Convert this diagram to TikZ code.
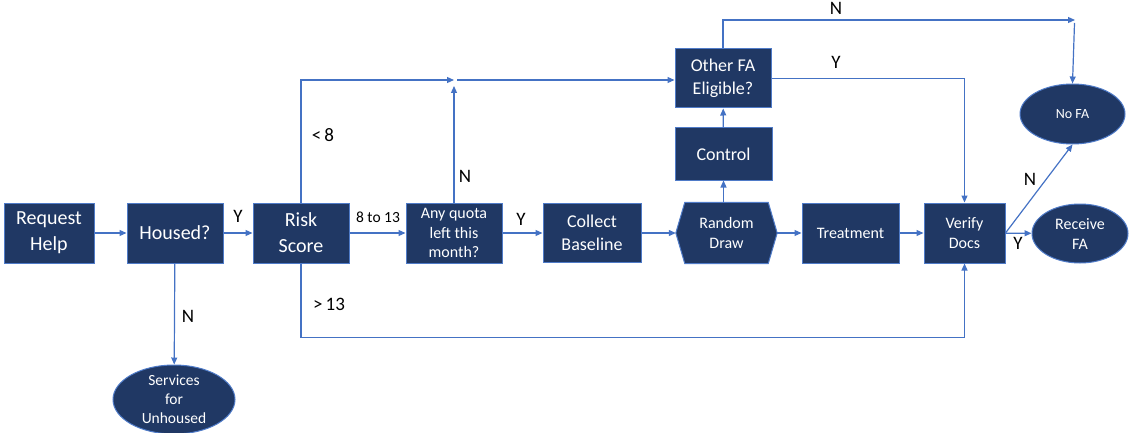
\documentclass[tikz,border=0pt]{standalone}
\usepackage{fontspec}
\setmainfont{Carlito}
\usetikzlibrary{arrows.meta,shapes.geometric,backgrounds}
\definecolor{navy}{HTML}{203864}
\definecolor{edgeblue}{HTML}{4F7BC8}
\definecolor{conn}{HTML}{4472C4}
\newcommand{\fsz}[2]{\fontsize{#1}{#2}\selectfont}
\tikzset{
  box/.style={rectangle, fill=navy, draw=edgeblue, line width=1pt, text=white, align=center, inner sep=0pt},
  ell/.style={ellipse, fill=navy, draw=edgeblue, line width=1pt, text=white, align=center, inner sep=0pt},
  hexbox/.style={rectangle, draw=none, text=white, align=center, inner sep=0pt},
  arr/.style={draw=conn, line width=1.2pt, -{Triangle[length=7pt,width=6pt]}},
  lbl/.style={text=black, font=\fsz{19}{22}, inner sep=0pt},
}
\begin{document}
\begin{tikzpicture}[x=1pt,y=-1pt]
\useasboundingbox (0,0) rectangle (1129,433);

% nodes
\node[box, minimum width=90, minimum height=60, font=\fsz{20}{26}] (req) at (49,233) {Request\\Help};
\node[box, minimum width=96, minimum height=60, font=\fsz{20}{26}] (housed) at (175,233) {Housed?};
\node[box, minimum width=96, minimum height=60, font=\fsz{20}{26}] (risk) at (301,233) {Risk\\Score};
\node[box, minimum width=96, minimum height=60, font=\fsz{16}{19.5}] (quota) at (454,233) {Any quota\\left this\\month?};
\node[box, minimum width=98, minimum height=59, font=\fsz{18}{23}] (collect) at (592,233) {Collect\\Baseline};
\node[hexbox, minimum width=101, minimum height=61, font=\fsz{16}{20}] (rd) at (726.5,233) {Random\\Draw};
\node[box, minimum width=97, minimum height=60, font=\fsz{16}{20}] (treat) at (850.5,233) {Treatment};
\node[box, minimum width=81, minimum height=60, font=\fsz{16}{20}] (verify) at (964.5,233) {Verify\\Docs};
\node[ell, minimum width=96, minimum height=59, font=\fsz{16}{20}] (recv) at (1080,233.5) {Receive\\FA};
\node[ell, minimum width=105, minimum height=60, font=\fsz{14}{18}] (nofa) at (1072.5,114) {No FA};
\node[box, minimum width=97, minimum height=52, font=\fsz{18}{23}] (control) at (723.5,154) {Control};
\node[box, minimum width=96, minimum height=59, font=\fsz{18}{23}] (other) at (723,78.5) {Other FA\\Eligible?};
\node[ell, minimum width=122, minimum height=65, font=\fsz{15.5}{19}] (serv) at (174,399.5) {Services\\for\\Unhoused};

\begin{scope}[on background layer]
\draw[fill=navy, draw=edgeblue, line width=1pt]
  ([xshift=9pt]rd.north west) -- ([xshift=-9pt]rd.north east) -- (rd.east)
  -- ([xshift=-9pt]rd.south east) -- ([xshift=9pt]rd.south west) -- (rd.west) -- cycle;
\end{scope}

% junction coordinates
\coordinate (j1) at (454,80);
\coordinate (j1s) at (457,80);
\coordinate (j2) at (454,86);
\coordinate (j3) at (1075,20);
\coordinate (j4) at (1074.5,23);

% main flow
\draw[arr] (req) -- (housed);
\draw[arr] (housed) -- (risk);
\node[lbl] (ly1) at (238,216) {Y};
\draw[arr] (risk) -- (quota);
\node[lbl, font=\fsz{15.5}{18}] (l813) at (378,217) {8 to 13};
\draw[arr] (quota) -- (collect);
\node[lbl] (ly2) at (521,219) {Y};
\draw[arr] (collect) -- (rd.west);
\draw[arr] (rd.east) -- (treat);
\draw[arr] (treat) -- (verify);
\draw[arr] (verify) -- (recv);
\node[lbl] (ly3) at (1018,243) {Y};
\draw[arr] (verify.east) -- (nofa.south);
\node[lbl] (ln3) at (1030,179) {N};

% housed -> services
\draw[arr] (housed) -- (serv);
\node[lbl] (ln1) at (188,316) {N};

% random draw -> control -> other
\draw[arr] (control.south |- rd.north) -- (control.south);
\draw[arr] (control) -- (other);

% risk < 8 up
\draw[arr] (risk.north) |- (j1);
\node[lbl] (llt8) at (323,135) {<\,8};
\draw[arr] (quota.north) -- (j2);
\node[lbl] (ln2) at (465,176) {N};
\draw[arr] (j1s) -- (other.west |- j1s);

% risk > 13 down
\draw[arr] (risk.south) -- ++(0,74) -| (verify.south);
\node[lbl] (lgt13) at (329,304) {>\,13};

% other FA N / Y
\draw[arr] (other.north) |- (j3);
\node[lbl] (ln4) at (836,8) {N};
\draw[arr] (j4) -- (nofa.north);
\draw[arr] (other.east) -| (verify.north);
\node[lbl] (ly4) at (836,62) {Y};
\end{tikzpicture}
\end{document}
